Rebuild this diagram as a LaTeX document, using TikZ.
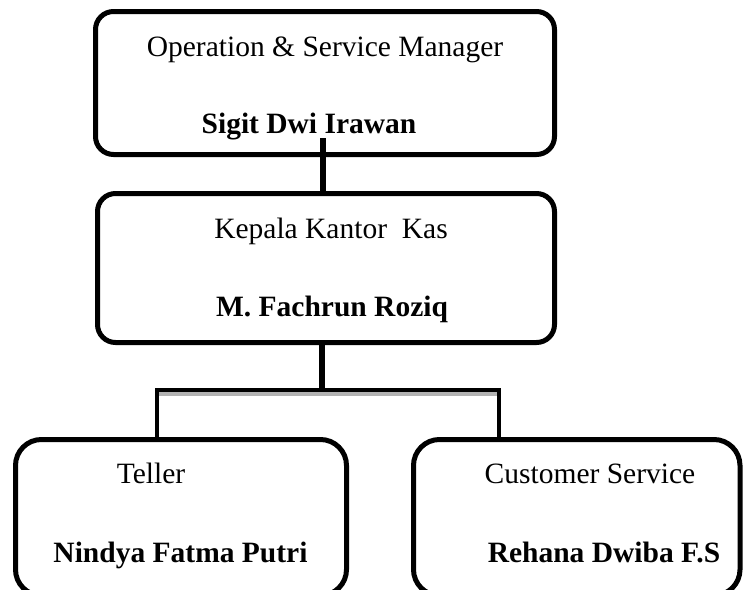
\documentclass[tikz,border=0pt]{standalone}
\usepackage{fontspec}
\setmainfont{Liberation Serif}
\begin{document}
\begin{tikzpicture}[x=1pt,y=-1pt,
  orgbox/.style={draw=black, line width=5pt, rounded corners=18pt, inner sep=0pt},
  lowbox/.style={orgbox, rounded corners=26pt},
  role/.style={anchor=base, inner sep=0pt, font=\fontsize{29.5}{35}\selectfont},
  person/.style={role, font=\fontsize{29.5}{35}\selectfont\bfseries},
  link/.style={draw=black, line width=6pt},
  thinlink/.style={draw=black, line width=4.5pt}
]
\clip (0,0) rectangle (743,589);
\fill[white] (0,0) rectangle (743,589);

% boxes
\node[orgbox, minimum width=459pt, minimum height=143pt] (top) at (325,83) {};
\node[orgbox, minimum width=457pt, minimum height=149pt] (mid) at (326,268) {};
\node[lowbox, minimum width=331pt, minimum height=156pt] (bl) at (181,517.5) {};
\node[lowbox, minimum width=326.5pt, minimum height=156pt] (br) at (576.75,517.5) {};

% texts
\node[role] (t1) at (325,56.5) {Operation \& Service Manager};
\node[person] (n1) at (309,133) {Sigit Dwi Irawan};
\node[role] (t2) at (331,238.5) {Kepala Kantor\ \ Kas};
\node[person] (n2) at (332,316) {M. Fachrun Roziq};
\node[role] (t3) at (151,483) {Teller};
\node[person] (n3) at (180.5,562) {Nindya Fatma Putri};
\node[role] (t4) at (590,483) {Customer Service};
\node[person] (n4) at (604,562) {Rehana Dwiba F.S};

% connectors
\coordinate (upj) at (323,138);
\coordinate (junction) at (322,390);
\coordinate (jl) at (157,390);
\coordinate (jr) at (499,390);

\draw[link] (upj) -- (upj |- mid.north);
\draw[link] (junction |- mid.south) -- (junction);
\draw[draw=gray!60, line width=4pt] ([yshift=-4pt]jl) -- ([yshift=-4pt]jr);
\draw[thinlink, line cap=rect] (jl) -- (jr);
\draw[thinlink] (jl) -- (jl |- bl.north);
\draw[thinlink] (jr) -- (jr |- br.north);
\end{tikzpicture}
\end{document}
